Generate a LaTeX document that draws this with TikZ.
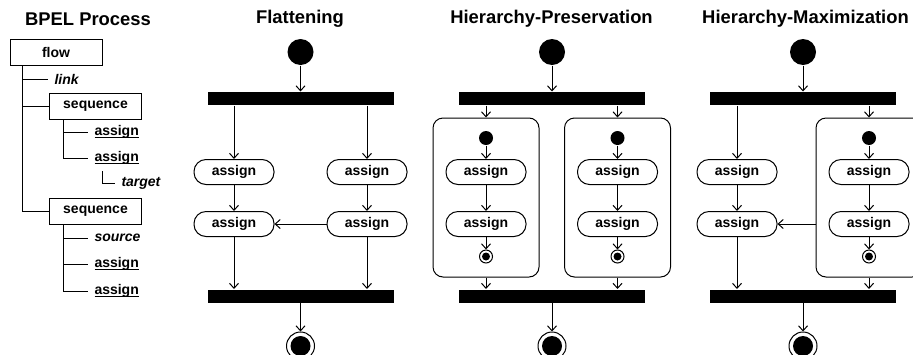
\documentclass[tikz,border=0pt]{standalone}
\usepackage{fontspec}
\setmainfont{Liberation Sans}
\usetikzlibrary{positioning, arrows.meta}
\newcommand\ulabel[1]{\setbox0\hbox{#1}\rlap{\rule[-1.3pt]{\wd0}{0.5pt}}\box0}

\begin{document}
\begin{tikzpicture}[
  x=0.5pt, y=-0.5pt,
  line width=0.5pt,
  heading/.style={font=\bfseries\fontsize{9.2}{10}\selectfont},
  act/.style={draw, rounded corners=6pt, minimum width=40pt, minimum height=12.5pt, inner sep=0pt, font=\bfseries\fontsize{7}{8}\selectfont},
  bar/.style={fill=black, minimum width=93pt, minimum height=6.5pt, inner sep=0pt},
  start/.style={circle, fill=black, minimum size=13pt, inner sep=0pt},
  stop/.style={circle, draw, minimum size=14pt, inner sep=0pt,
    path picture={\fill (path picture bounding box.center) circle (5pt);}},
  substart/.style={circle, fill=black, minimum size=7pt, inner sep=0pt},
  substop/.style={circle, draw, minimum size=6.5pt, inner sep=0pt,
    path picture={\fill (path picture bounding box.center) circle (2pt);}},
  region/.style={draw, rounded corners=5pt, minimum width=53pt, minimum height=79.5pt, inner sep=0pt},
  treebox/.style={draw, minimum width=46pt, minimum height=13pt, inner sep=0pt, font=\bfseries\fontsize{7}{8}\selectfont},
  leaf/.style={anchor=west, inner sep=3pt, font=\bfseries\fontsize{7}{8}\selectfont},
  attr/.style={leaf, font=\bfseries\itshape\fontsize{7}{8}\selectfont},
  trans/.style={-{Straight Barb[length=2.5pt, width=4.5pt]}}
]
  \useasboundingbox (0,0) rectangle (913,354);

  % BPEL process tree
  \node[heading] (tBpel) at (88,19) {BPEL Process};
  \node[treebox] (flow) at (56,52) {flow};
  \node[attr] (link) at (48,79) {link};
  \node[treebox] (seq1) at (95.5,106) {sequence};
  \node[leaf] (as1) at (88,132) {\ulabel{assign}};
  \node[leaf] (as2) at (88,158) {\ulabel{assign}};
  \node[attr] (tgt) at (115,183) {target};
  \node[treebox] (seq2) at (95.5,211) {sequence};
  \node[attr] (src) at (88,238) {source};
  \node[leaf] (as3) at (88,264) {\ulabel{assign}};
  \node[leaf] (as4) at (88,291) {\ulabel{assign}};
  \foreach \n in {link, seq1, seq2}
    \draw ([xshift=6.5pt]flow.south west) |- (\n.west);
  \foreach \n in {as1, as2}
    \draw ([xshift=7pt]seq1.south west) |- (\n.west);
  \draw ([xshift=7pt]as2.south west) |- (tgt.west);
  \foreach \n in {src, as3, as4}
    \draw ([xshift=7pt]seq2.south west) |- (\n.west);

  % Flattening
  \node[heading] (tFlat) at (300,19) {Flattening};
  \node[start] (fStart) at (300.5,52) {};
  \node[bar] (fFork) at (300.5,98.5) {};
  \node[act] (fA1) at (234,172) {assign};
  \node[act] (fA2) at (234,224) {assign};
  \node[act] (fB1) at (367,172) {assign};
  \node[act] (fB2) at (367,224) {assign};
  \node[bar] (fJoin) at (300.5,296) {};
  \node[stop] (fStop) at (300.5,346) {};
  \draw[trans] (fStart) -- (fFork);
  \foreach \c in {A, B} {
    \draw[trans] (fFork.south -| f\c1) -- (f\c1);
    \draw[trans] (f\c1) -- (f\c2);
    \draw[trans] (f\c2) -- (fJoin.north -| f\c2);
  }
  \draw[trans] (fB2) -- (fA2);
  \draw[trans] (fJoin) -- (fStop);

  % Hierarchy-Preservation
  \node[heading] (tPres) at (551.5,19) {Hierarchy-Preservation};
  \node[start] (pStart) at (552,52) {};
  \node[bar] (pFork) at (552,98.5) {};
  \node[bar] (pJoin) at (552,296) {};
  \node[stop] (pStop) at (552,346) {};
  \draw[trans] (pStart) -- (pFork);
  \draw[trans] (pJoin) -- (pStop);
  \foreach \c/\x in {L/486, R/617.5} {
    \node[region] (p\c) at (\x,197.5) {};
    \node[substart] (p\c0) at (\x,138) {};
    \node[act] (p\c1) at (\x,172) {assign};
    \node[act] (p\c2) at (\x,224) {assign};
    \node[substop] (p\c3) at (\x,256.5) {};
    \draw[trans] (pFork.south -| p\c) -- (p\c);
    \draw[trans] (p\c0) -- (p\c1);
    \draw[trans] (p\c1) -- (p\c2);
    \draw[trans] (p\c2) -- (p\c3);
    \draw[trans] (p\c) -- (pJoin.north -| p\c);
  }

  % Hierarchy-Maximization
  \node[heading] (tMax) at (805.5,19) {Hierarchy-Maximization};
  \node[start] (mStart) at (803,52) {};
  \node[bar] (mFork) at (803,98.5) {};
  \node[act] (mA1) at (737,172) {assign};
  \node[act] (mA2) at (737,224) {assign};
  \node[region] (mR) at (869,197.5) {};
  \node[substart] (mR0) at (869,138) {};
  \node[act] (mR1) at (869,172) {assign};
  \node[act] (mR2) at (869,224) {assign};
  \node[substop] (mR3) at (869,256.5) {};
  \node[bar] (mJoin) at (803,296) {};
  \node[stop] (mStop) at (803,346) {};
  \draw[trans] (mStart) -- (mFork);
  \draw[trans] (mFork.south -| mA1) -- (mA1);
  \draw[trans] (mA1) -- (mA2);
  \draw[trans] (mA2) -- (mJoin.north -| mA2);
  \draw[trans] (mFork.south -| mR) -- (mR);
  \draw[trans] (mR0) -- (mR1);
  \draw[trans] (mR1) -- (mR2);
  \draw[trans] (mR2) -- (mR3);
  \draw[trans] (mR) -- (mJoin.north -| mR);
  \draw[trans] (mR.west |- mA2) -- (mA2);
  \draw[trans] (mJoin) -- (mStop);
\end{tikzpicture}
\end{document}
